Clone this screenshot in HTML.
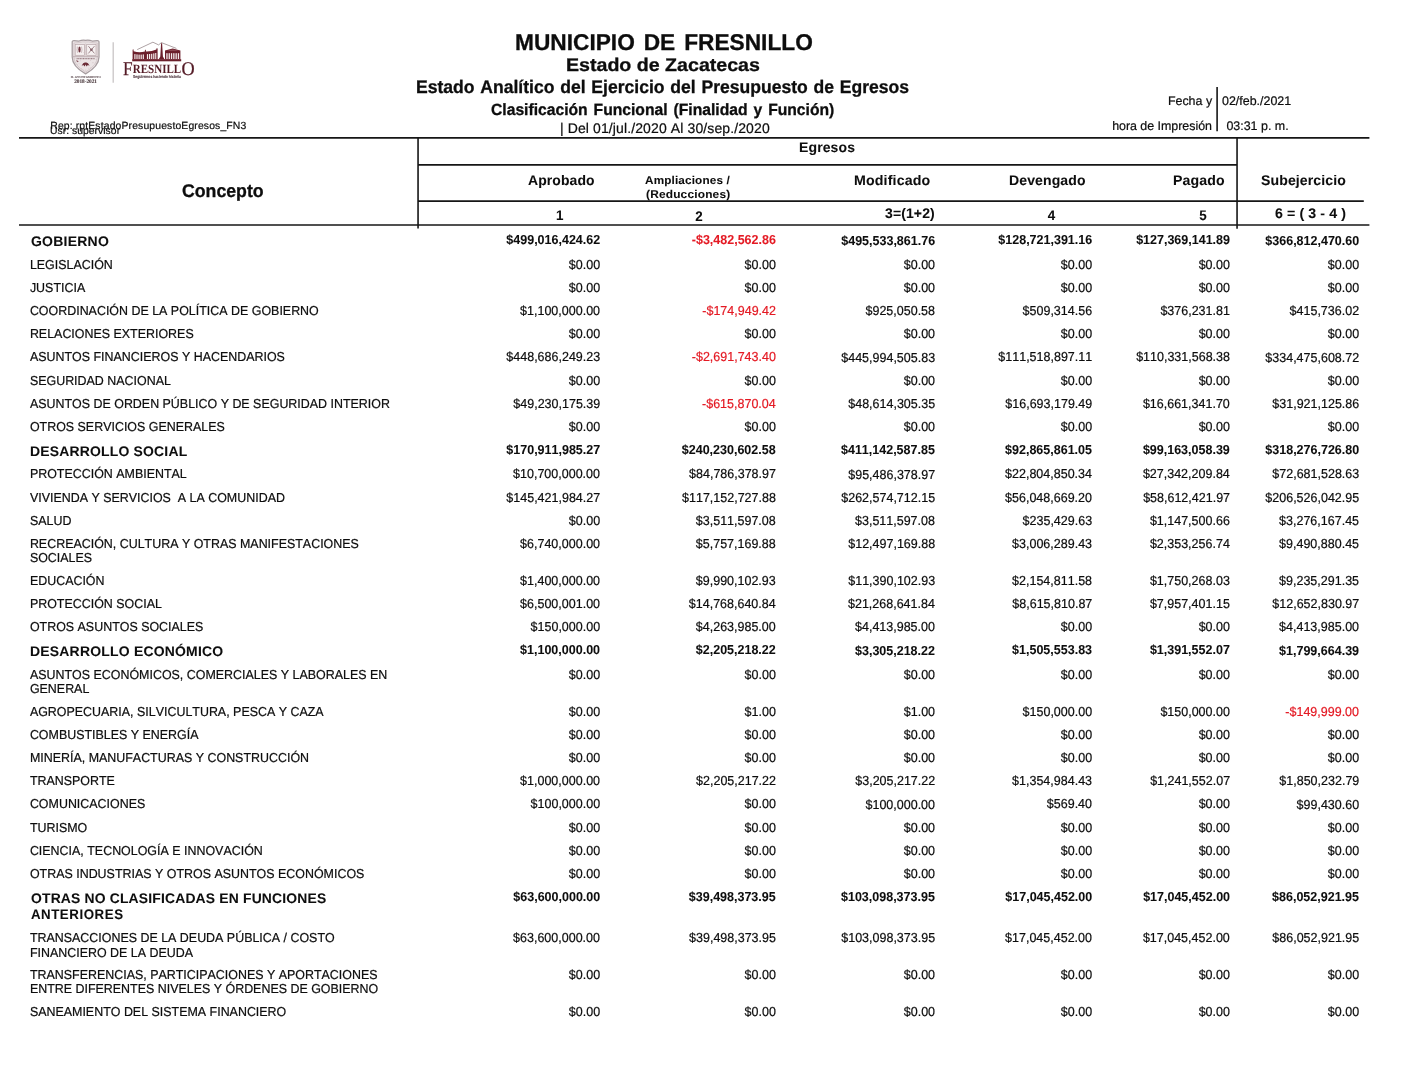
<!DOCTYPE html>
<html lang="es">
<head>
<meta charset="utf-8">
<title>Estado Analítico del Ejercicio del Presupuesto de Egresos</title>
<style>
html,body{margin:0;padding:0;background:#fff;}
body{width:1409px;height:1088px;position:relative;overflow:hidden;font-family:"Liberation Sans",Arial,sans-serif;color:#0d0d0d;font-kerning:none;text-rendering:geometricPrecision;}
.t{position:absolute;line-height:0;white-space:nowrap;-webkit-text-stroke:0.2px currentColor;}
.b{font-weight:bold;-webkit-text-stroke:0.06px currentColor;}
.ln{position:absolute;}
.hv{-webkit-text-stroke:0.3px currentColor;}
.neg{color:#e41a24;}
svg{position:absolute;overflow:visible;}
</style>
</head>
<body>
<svg class="rules" width="1409" height="1088" viewBox="0 0 1409 1088" style="left:0;top:0"><line x1="1217.10" y1="87.10" x2="1217.10" y2="131.20" stroke="#161616" stroke-width="1.60"/><line x1="19.00" y1="137.95" x2="1369.40" y2="137.95" stroke="#161616" stroke-width="1.70"/><line x1="418.00" y1="164.80" x2="1237.00" y2="164.80" stroke="#161616" stroke-width="1.70"/><line x1="418.00" y1="201.05" x2="1363.80" y2="201.05" stroke="#161616" stroke-width="1.70"/><line x1="19.00" y1="225.00" x2="1369.40" y2="225.00" stroke="#161616" stroke-width="1.70"/><line x1="418.05" y1="137.10" x2="418.05" y2="228.60" stroke="#161616" stroke-width="1.60"/><line x1="1237.05" y1="137.10" x2="1237.05" y2="228.70" stroke="#161616" stroke-width="1.60"/></svg>
<header class="report-header">
<svg class="logo" width="150" height="60" viewBox="60 30 150 60" style="left:60px;top:30px" font-family="'Liberation Serif','DejaVu Serif',serif">
<!-- escudo -->
<path d="M72.2,42 Q72.2,40.6 74,40.7 L79,41 Q82.2,39.7 85.6,40.3 Q89,39.7 92.2,41 L97.2,40.7 Q99,40.6 99,42 L99,57 Q99,66.2 85.6,73.9 Q72.2,66.2 72.2,57 Z" fill="#ebe4e5" stroke="#a69c9f" stroke-width="1.25"/>
<path d="M73.9,43 L79.2,42.6 Q82.3,41.5 85.6,42 Q88.9,41.5 92,42.6 L97.3,43 L97.3,57 Q97.3,65 85.6,72 Q73.9,65 73.9,57 Z" fill="none" stroke="#cdbfc2" stroke-width="0.7"/>
<rect x="75.2" y="44.4" width="9.3" height="10.9" fill="#f6f1f1" stroke="#b9a7aa" stroke-width="0.7"/>
<rect x="86.7" y="44.4" width="9.3" height="10.9" fill="#f6f1f1" stroke="#b9a7aa" stroke-width="0.7"/>
<ellipse cx="79.5" cy="49.6" rx="1.15" ry="3" fill="#6f333d"/>
<path d="M77.5,46.6 Q76.5,49.6 77.5,52.8 M81.5,46.6 Q82.5,49.6 81.5,52.8" fill="none" stroke="#b9a3a7" stroke-width="0.7"/>
<path d="M88.4,46.2 L94.4,53.4 M94.4,46.2 L88.4,53.4" stroke="#94797f" stroke-width="0.9" fill="none"/>
<circle cx="91.4" cy="49.8" r="1.3" fill="#84626a"/>
<path d="M73,56.7 H98.2" stroke="#b9a8ab" stroke-width="0.9"/>
<path d="M76.6,58.6 H94.8" stroke="#9c8388" stroke-width="1.1" stroke-dasharray="1.1 0.5"/>
<path d="M76.2,59.8 L78.8,61.6 L77,62.2 Z" fill="#8a5a62"/>
<path d="M81.6,65.8 Q83.4,61.9 85.6,62.6 Q87.8,61.9 89.6,65.8 L87.8,65 L86.6,66.6 L85.6,64.6 L84.6,66.6 L83.4,65 Z" fill="#6c2c37"/>
<path d="M79,63.5 l0.6,0.6 M92,62.4 l0.7,0.5 M90.4,67.6 l0.6,0.5 M81.2,68.4 l0.6,0.4 M85.6,69.6 l0,0.9" stroke="#c9b3b7" stroke-width="0.6"/>
<g fill="#bfaab0" opacity="0.75"><circle cx="75" cy="58.6" r="0.45"/><circle cx="96" cy="59.4" r="0.45"/><circle cx="80.4" cy="60.8" r="0.4"/><circle cx="90.6" cy="60.2" r="0.45"/><circle cx="93.6" cy="62.8" r="0.4"/><circle cx="77.6" cy="64.6" r="0.4"/><circle cx="88.8" cy="68.2" r="0.4"/><circle cx="83" cy="69.2" r="0.4"/><circle cx="86" cy="71" r="0.35"/><circle cx="76.4" cy="47" r="0.35"/><circle cx="83.4" cy="52.6" r="0.35"/><circle cx="88" cy="54" r="0.35"/><circle cx="95" cy="46.2" r="0.35"/><circle cx="85.6" cy="47.6" r="0.4"/><circle cx="85.6" cy="51.8" r="0.4"/></g>
<path d="M85.6,43.4 V56.2" stroke="#d6c9cb" stroke-width="0.8"/>
<text x="85.8" y="77.5" font-size="3.1" text-anchor="middle" fill="#7d6f73" stroke="#7d6f73" stroke-width="0.12" textLength="30.2" lengthAdjust="spacingAndGlyphs" font-weight="bold">H. AYUNTAMIENTO</text>
<text x="85.6" y="82.8" font-size="5.4" text-anchor="middle" fill="#514045" stroke="#514045" stroke-width="0.15" font-weight="bold" textLength="22.8" lengthAdjust="spacingAndGlyphs">2018-2021</text>
<!-- divisor -->
<path d="M113.2,42.2 V82.8" stroke="#c9c5c6" stroke-width="1.3"/>
<!-- monumentos -->
<path d="M137.2,49.6 L152.9,42.2 L158.6,44.9 L161.4,42.6 L176.4,48.4" fill="none" stroke="#6b5558" stroke-width="0.55"/>
<g fill="#6b1f2b">
<rect x="132.2" y="59.2" width="49" height="2.1"/>
<path d="M132.6,59.4 V49.9 L133.1,49 L133.6,49.9 V51.3 Q139.4,53.1 144.9,51.5 V50.2 L145.4,49.4 L145.9,50.2 V51.5 Q151.6,51.7 156.4,49.6 V48.8 L157,47.9 L157.6,48.8 V59.4 Z"/>
<path d="M161.1,43.2 L162.1,43.2 L162.9,56.6 L164.6,59.4 L158.6,59.4 L160.3,56.6 Z"/>
<path d="M165,59.4 V50.6 L172.7,48.4 L180.4,50.6 V59.4 Z"/>
</g>
<g fill="#f4ecec">
<rect x="134.3" y="54.1" width="1.2" height="4.9"/><rect x="136.4" y="54.4" width="1.2" height="4.6"/><rect x="138.5" y="54.6" width="1.2" height="4.4"/><rect x="140.6" y="54.6" width="1.2" height="4.4"/><rect x="142.7" y="54.4" width="1.2" height="4.6"/>
<rect x="146.9" y="54.1" width="1.2" height="4.9"/><rect x="149" y="54" width="1.2" height="5"/><rect x="151.1" y="53.8" width="1.2" height="5.2"/><rect x="153.2" y="53.4" width="1.2" height="5.6"/><rect x="155.2" y="53" width="1.1" height="6"/>
<rect x="166.3" y="53.2" width="1.3" height="5.8"/><rect x="168.6" y="53.2" width="1.3" height="5.8"/><rect x="170.9" y="53.2" width="1.3" height="5.8"/><rect x="173.2" y="53.2" width="1.3" height="5.8"/><rect x="175.5" y="53.2" width="1.3" height="5.8"/><rect x="177.8" y="53.2" width="1.3" height="5.8"/>
<path d="M166.4,51 L172.7,49.3 L179,51 Z" fill="#8a4650"/>
</g>
<!-- rotulo -->
<text fill="#541b26" stroke="#541b26" stroke-width="0.25"><tspan x="122.9" y="74.9" font-size="19.5" textLength="9.6" lengthAdjust="spacingAndGlyphs">F</tspan><tspan x="132.8" y="72.8" font-size="12.6" font-weight="bold" stroke-width="0" textLength="48.4" lengthAdjust="spacingAndGlyphs">RESNILL</tspan><tspan x="181.5" y="75" font-size="19.3" textLength="13.2" lengthAdjust="spacingAndGlyphs">O</tspan></text>
<text x="133.1" y="78" font-size="4.1" fill="#58424a" stroke="#58424a" stroke-width="0.12" font-weight="bold" font-family="'Liberation Sans',sans-serif" textLength="47.8" lengthAdjust="spacingAndGlyphs">Seguiremos haciendo historia</text>
</svg>

<div class="t b hv" style="top:43.20px;font-size:22.40px;word-spacing:2.60px;left:514.78px;transform-origin:0 7.00px;transform:scale(1.0136,1.0200);">MUNICIPIO DE FRESNILLO</div>
<div class="t b hv" style="top:65.00px;font-size:17.60px;left:566.11px;transform-origin:0 6.00px;transform:scale(1.1140,1.0400);">Estado de Zacatecas</div>
<div class="t b hv" style="top:87.10px;font-size:17.55px;word-spacing:0.90px;left:415.65px;transform-origin:0 6.00px;transform:scale(1.0012,1.0400);">Estado Analítico del Ejercicio del Presupuesto de Egresos</div>
<div class="t b hv" style="top:110.90px;font-size:15.60px;word-spacing:1.60px;left:491.05px;transform-origin:0 4.00px;transform:scale(1.0046,1.0400);">Clasificación Funcional (Finalidad y Función)</div>
<div class="t" style="top:128.40px;font-size:14.00px;left:559.95px;letter-spacing:0.114px;">| Del 01/jul./2020 Al 30/sep./2020</div>
<div class="t" style="top:127.30px;font-size:10.40px;left:50.25px;letter-spacing:0.137px;">Rep: rptEstadoPresupuestoEgresos_FN3</div>
<div class="t" style="top:131.70px;font-size:10.40px;left:49.95px;letter-spacing:0.021px;">Usr: supervisor</div>
<div class="t" style="top:101.20px;font-size:12.45px;left:1167.90px;">Fecha y</div>
<div class="t" style="top:101.20px;font-size:12.45px;left:1222.00px;">02/feb./2021</div>
<div class="t" style="top:126.20px;font-size:12.45px;left:1112.15px;letter-spacing:-0.028px;">hora de Impresión</div>
<div class="t" style="top:126.20px;font-size:12.45px;left:1226.40px;">03:31 p. m.</div>
</header>
<section class="report-table">
<div class="thead">
<div class="t b hv" style="top:190.80px;font-size:17.70px;left:181.55px;transform-origin:0 6.00px;transform:scale(1.0012,1.0400);">Concepto</div>
<div class="t b" style="top:148.10px;font-size:13.40px;left:798.95px;letter-spacing:0.102px;transform-origin:0 4.00px;transform:scale(1.0470,1.0400);">Egresos</div>
<div class="t b" style="top:181.10px;font-size:13.40px;left:527.98px;letter-spacing:0.093px;transform-origin:0 4.00px;transform:scale(1.0413,1.0400);">Aprobado</div>
<div class="t b" style="top:181.30px;font-size:10.80px;left:645.13px;letter-spacing:0.132px;transform-origin:0 3.00px;transform:scale(1.0883,1.0400);">Ampliaciones /</div>
<div class="t b" style="top:195.30px;font-size:10.80px;left:646.05px;letter-spacing:0.161px;transform-origin:0 3.00px;transform:scale(1.1027,1.0400);">(Reducciones)</div>
<div class="t b" style="top:181.20px;font-size:13.40px;left:853.54px;letter-spacing:0.121px;transform-origin:0 4.00px;transform:scale(1.0620,1.0400);">Modificado</div>
<div class="t b" style="top:181.20px;font-size:13.40px;left:1008.95px;letter-spacing:0.106px;transform-origin:0 4.00px;transform:scale(1.0475,1.0400);">Devengado</div>
<div class="t b" style="top:181.20px;font-size:13.40px;left:1172.95px;letter-spacing:0.130px;transform-origin:0 4.00px;transform:scale(1.0549,1.0400);">Pagado</div>
<div class="t b" style="top:181.20px;font-size:13.40px;left:1260.87px;letter-spacing:0.093px;transform-origin:0 4.00px;transform:scale(1.0513,1.0400);">Subejercicio</div>
<div class="t b" style="top:216.30px;font-size:13.40px;left:556.12px;transform-origin:0 4.00px;transform:scale(1.0000,1.0400);">1</div>
<div class="t b" style="top:217.40px;font-size:13.40px;left:695.25px;transform-origin:0 4.00px;transform:scale(1.0000,1.0400);">2</div>
<div class="t b" style="top:214.10px;font-size:13.40px;left:885.34px;letter-spacing:0.093px;transform-origin:0 4.00px;transform:scale(1.0481,1.0400);">3=(1+2)</div>
<div class="t b" style="top:216.40px;font-size:13.40px;left:1047.83px;transform-origin:0 4.00px;transform:scale(1.0000,1.0400);">4</div>
<div class="t b" style="top:216.30px;font-size:13.40px;left:1199.35px;transform-origin:0 4.00px;transform:scale(1.0000,1.0400);">5</div>
<div class="t b" style="top:214.00px;font-size:13.40px;left:1275.27px;letter-spacing:0.083px;transform-origin:0 4.00px;transform:scale(1.0602,1.0400);">6 = ( 3 - 4 )</div>
</div>
<div class="row group">
<div class="t b" style="top:241.95px;font-size:13.30px;left:30.87px;letter-spacing:0.229px;transform-origin:0 4.00px;transform:scale(1.0514,1.0400);">GOBIERNO</div>
<div class="t b" style="top:240.25px;font-size:12.50px;left:506.35px;transform-origin:0 4.00px;transform:scale(1.0000,1.0400);">$499,016,424.62</div>
<div class="t b neg" style="top:240.25px;font-size:12.50px;left:691.80px;transform-origin:0 4.00px;transform:scale(1.0000,1.0400);">-$3,482,562.86</div>
<div class="t b" style="top:241.25px;font-size:12.50px;left:841.25px;transform-origin:0 4.00px;transform:scale(1.0000,1.0400);">$495,533,861.76</div>
<div class="t b" style="top:240.25px;font-size:12.50px;left:998.35px;transform-origin:0 4.00px;transform:scale(1.0000,1.0400);">$128,721,391.16</div>
<div class="t b" style="top:240.25px;font-size:12.50px;left:1136.15px;transform-origin:0 4.00px;transform:scale(1.0000,1.0400);">$127,369,141.89</div>
<div class="t b" style="top:241.05px;font-size:12.50px;left:1265.35px;transform-origin:0 4.00px;transform:scale(1.0000,1.0400);">$366,812,470.60</div>
</div>
<div class="row">
<div class="t" style="top:265.25px;font-size:12.45px;left:29.90px;transform-origin:0 4.00px;transform:scale(1.0000,1.0400);">LEGISLACIÓN</div>
<div class="t" style="top:265.25px;font-size:12.50px;left:568.85px;transform-origin:0 4.00px;transform:scale(1.0000,1.0400);">$0.00</div>
<div class="t" style="top:265.25px;font-size:12.50px;left:744.55px;transform-origin:0 4.00px;transform:scale(1.0000,1.0400);">$0.00</div>
<div class="t" style="top:265.25px;font-size:12.50px;left:903.75px;transform-origin:0 4.00px;transform:scale(1.0000,1.0400);">$0.00</div>
<div class="t" style="top:265.25px;font-size:12.50px;left:1060.85px;transform-origin:0 4.00px;transform:scale(1.0000,1.0400);">$0.00</div>
<div class="t" style="top:265.25px;font-size:12.50px;left:1198.65px;transform-origin:0 4.00px;transform:scale(1.0000,1.0400);">$0.00</div>
<div class="t" style="top:265.25px;font-size:12.50px;left:1327.85px;transform-origin:0 4.00px;transform:scale(1.0000,1.0400);">$0.00</div>
</div>
<div class="row">
<div class="t" style="top:288.00px;font-size:12.45px;left:29.90px;transform-origin:0 4.00px;transform:scale(1.0000,1.0400);">JUSTICIA</div>
<div class="t" style="top:288.00px;font-size:12.50px;left:568.85px;transform-origin:0 4.00px;transform:scale(1.0000,1.0400);">$0.00</div>
<div class="t" style="top:288.00px;font-size:12.50px;left:744.55px;transform-origin:0 4.00px;transform:scale(1.0000,1.0400);">$0.00</div>
<div class="t" style="top:288.00px;font-size:12.50px;left:903.75px;transform-origin:0 4.00px;transform:scale(1.0000,1.0400);">$0.00</div>
<div class="t" style="top:288.00px;font-size:12.50px;left:1060.85px;transform-origin:0 4.00px;transform:scale(1.0000,1.0400);">$0.00</div>
<div class="t" style="top:288.00px;font-size:12.50px;left:1198.65px;transform-origin:0 4.00px;transform:scale(1.0000,1.0400);">$0.00</div>
<div class="t" style="top:288.00px;font-size:12.50px;left:1327.85px;transform-origin:0 4.00px;transform:scale(1.0000,1.0400);">$0.00</div>
</div>
<div class="row">
<div class="t" style="top:311.00px;font-size:12.45px;left:29.90px;transform-origin:0 4.00px;transform:scale(1.0000,1.0400);">COORDINACIÓN DE LA POLÍTICA DE GOBIERNO</div>
<div class="t" style="top:311.00px;font-size:12.50px;left:520.10px;transform-origin:0 4.00px;transform:scale(1.0000,1.0400);">$1,100,000.00</div>
<div class="t neg" style="top:311.00px;font-size:12.50px;left:702.30px;transform-origin:0 4.00px;transform:scale(1.0000,1.0400);">-$174,949.42</div>
<div class="t" style="top:311.00px;font-size:12.50px;left:865.50px;transform-origin:0 4.00px;transform:scale(1.0000,1.0400);">$925,050.58</div>
<div class="t" style="top:311.00px;font-size:12.50px;left:1022.60px;transform-origin:0 4.00px;transform:scale(1.0000,1.0400);">$509,314.56</div>
<div class="t" style="top:311.00px;font-size:12.50px;left:1160.40px;transform-origin:0 4.00px;transform:scale(1.0000,1.0400);">$376,231.81</div>
<div class="t" style="top:311.00px;font-size:12.50px;left:1289.60px;transform-origin:0 4.00px;transform:scale(1.0000,1.0400);">$415,736.02</div>
</div>
<div class="row">
<div class="t" style="top:334.00px;font-size:12.45px;left:29.90px;transform-origin:0 4.00px;transform:scale(1.0000,1.0400);">RELACIONES EXTERIORES</div>
<div class="t" style="top:334.00px;font-size:12.50px;left:568.85px;transform-origin:0 4.00px;transform:scale(1.0000,1.0400);">$0.00</div>
<div class="t" style="top:334.00px;font-size:12.50px;left:744.55px;transform-origin:0 4.00px;transform:scale(1.0000,1.0400);">$0.00</div>
<div class="t" style="top:334.00px;font-size:12.50px;left:903.75px;transform-origin:0 4.00px;transform:scale(1.0000,1.0400);">$0.00</div>
<div class="t" style="top:334.00px;font-size:12.50px;left:1060.85px;transform-origin:0 4.00px;transform:scale(1.0000,1.0400);">$0.00</div>
<div class="t" style="top:334.00px;font-size:12.50px;left:1198.65px;transform-origin:0 4.00px;transform:scale(1.0000,1.0400);">$0.00</div>
<div class="t" style="top:334.00px;font-size:12.50px;left:1327.85px;transform-origin:0 4.00px;transform:scale(1.0000,1.0400);">$0.00</div>
</div>
<div class="row">
<div class="t" style="top:356.60px;font-size:12.45px;left:29.90px;transform-origin:0 4.00px;transform:scale(1.0000,1.0400);">ASUNTOS FINANCIEROS Y HACENDARIOS</div>
<div class="t" style="top:356.60px;font-size:12.50px;left:506.35px;transform-origin:0 4.00px;transform:scale(1.0000,1.0400);">$448,686,249.23</div>
<div class="t neg" style="top:356.60px;font-size:12.50px;left:691.80px;transform-origin:0 4.00px;transform:scale(1.0000,1.0400);">-$2,691,743.40</div>
<div class="t" style="top:357.60px;font-size:12.50px;left:841.25px;transform-origin:0 4.00px;transform:scale(1.0000,1.0400);">$445,994,505.83</div>
<div class="t" style="top:356.60px;font-size:12.50px;left:998.35px;transform-origin:0 4.00px;transform:scale(1.0000,1.0400);">$111,518,897.11</div>
<div class="t" style="top:356.60px;font-size:12.50px;left:1136.15px;transform-origin:0 4.00px;transform:scale(1.0000,1.0400);">$110,331,568.38</div>
<div class="t" style="top:357.60px;font-size:12.50px;left:1265.35px;transform-origin:0 4.00px;transform:scale(1.0000,1.0400);">$334,475,608.72</div>
</div>
<div class="row">
<div class="t" style="top:380.50px;font-size:12.45px;left:29.90px;transform-origin:0 4.00px;transform:scale(1.0000,1.0400);">SEGURIDAD NACIONAL</div>
<div class="t" style="top:380.50px;font-size:12.50px;left:568.85px;transform-origin:0 4.00px;transform:scale(1.0000,1.0400);">$0.00</div>
<div class="t" style="top:380.50px;font-size:12.50px;left:744.55px;transform-origin:0 4.00px;transform:scale(1.0000,1.0400);">$0.00</div>
<div class="t" style="top:380.50px;font-size:12.50px;left:903.75px;transform-origin:0 4.00px;transform:scale(1.0000,1.0400);">$0.00</div>
<div class="t" style="top:380.50px;font-size:12.50px;left:1060.85px;transform-origin:0 4.00px;transform:scale(1.0000,1.0400);">$0.00</div>
<div class="t" style="top:380.50px;font-size:12.50px;left:1198.65px;transform-origin:0 4.00px;transform:scale(1.0000,1.0400);">$0.00</div>
<div class="t" style="top:380.50px;font-size:12.50px;left:1327.85px;transform-origin:0 4.00px;transform:scale(1.0000,1.0400);">$0.00</div>
</div>
<div class="row">
<div class="t" style="top:403.90px;font-size:12.45px;left:29.90px;transform-origin:0 4.00px;transform:scale(1.0000,1.0400);">ASUNTOS DE ORDEN PÚBLICO Y DE SEGURIDAD INTERIOR</div>
<div class="t" style="top:403.90px;font-size:12.50px;left:513.35px;transform-origin:0 4.00px;transform:scale(1.0000,1.0400);">$49,230,175.39</div>
<div class="t neg" style="top:403.90px;font-size:12.50px;left:702.05px;transform-origin:0 4.00px;transform:scale(1.0000,1.0400);">-$615,870.04</div>
<div class="t" style="top:403.90px;font-size:12.50px;left:848.25px;transform-origin:0 4.00px;transform:scale(1.0000,1.0400);">$48,614,305.35</div>
<div class="t" style="top:403.90px;font-size:12.50px;left:1005.35px;transform-origin:0 4.00px;transform:scale(1.0000,1.0400);">$16,693,179.49</div>
<div class="t" style="top:403.90px;font-size:12.50px;left:1142.90px;transform-origin:0 4.00px;transform:scale(1.0000,1.0400);">$16,661,341.70</div>
<div class="t" style="top:403.90px;font-size:12.50px;left:1272.35px;transform-origin:0 4.00px;transform:scale(1.0000,1.0400);">$31,921,125.86</div>
</div>
<div class="row">
<div class="t" style="top:426.60px;font-size:12.45px;left:29.90px;transform-origin:0 4.00px;transform:scale(1.0000,1.0400);">OTROS SERVICIOS GENERALES</div>
<div class="t" style="top:426.60px;font-size:12.50px;left:568.85px;transform-origin:0 4.00px;transform:scale(1.0000,1.0400);">$0.00</div>
<div class="t" style="top:426.60px;font-size:12.50px;left:744.55px;transform-origin:0 4.00px;transform:scale(1.0000,1.0400);">$0.00</div>
<div class="t" style="top:426.60px;font-size:12.50px;left:903.75px;transform-origin:0 4.00px;transform:scale(1.0000,1.0400);">$0.00</div>
<div class="t" style="top:426.60px;font-size:12.50px;left:1060.85px;transform-origin:0 4.00px;transform:scale(1.0000,1.0400);">$0.00</div>
<div class="t" style="top:426.60px;font-size:12.50px;left:1198.65px;transform-origin:0 4.00px;transform:scale(1.0000,1.0400);">$0.00</div>
<div class="t" style="top:426.60px;font-size:12.50px;left:1327.85px;transform-origin:0 4.00px;transform:scale(1.0000,1.0400);">$0.00</div>
</div>
<div class="row group">
<div class="t b" style="top:451.95px;font-size:13.30px;left:30.35px;letter-spacing:0.189px;transform-origin:0 4.00px;transform:scale(1.0476,1.0400);">DESARROLLO SOCIAL</div>
<div class="t b" style="top:450.25px;font-size:12.50px;left:506.35px;transform-origin:0 4.00px;transform:scale(1.0000,1.0400);">$170,911,985.27</div>
<div class="t b" style="top:450.25px;font-size:12.50px;left:681.80px;transform-origin:0 4.00px;transform:scale(1.0000,1.0400);">$240,230,602.58</div>
<div class="t b" style="top:450.25px;font-size:12.50px;left:841.00px;transform-origin:0 4.00px;transform:scale(1.0000,1.0400);">$411,142,587.85</div>
<div class="t b" style="top:450.25px;font-size:12.50px;left:1005.10px;transform-origin:0 4.00px;transform:scale(1.0000,1.0400);">$92,865,861.05</div>
<div class="t b" style="top:450.25px;font-size:12.50px;left:1142.90px;transform-origin:0 4.00px;transform:scale(1.0000,1.0400);">$99,163,058.39</div>
<div class="t b" style="top:450.25px;font-size:12.50px;left:1265.35px;transform-origin:0 4.00px;transform:scale(1.0000,1.0400);">$318,276,726.80</div>
</div>
<div class="row">
<div class="t" style="top:474.00px;font-size:12.45px;left:29.90px;transform-origin:0 4.00px;transform:scale(1.0000,1.0400);">PROTECCIÓN AMBIENTAL</div>
<div class="t" style="top:474.00px;font-size:12.50px;left:513.10px;transform-origin:0 4.00px;transform:scale(1.0000,1.0400);">$10,700,000.00</div>
<div class="t" style="top:474.00px;font-size:12.50px;left:689.05px;transform-origin:0 4.00px;transform:scale(1.0000,1.0400);">$84,786,378.97</div>
<div class="t" style="top:475.00px;font-size:12.50px;left:848.25px;transform-origin:0 4.00px;transform:scale(1.0000,1.0400);">$95,486,378.97</div>
<div class="t" style="top:474.00px;font-size:12.50px;left:1005.10px;transform-origin:0 4.00px;transform:scale(1.0000,1.0400);">$22,804,850.34</div>
<div class="t" style="top:474.00px;font-size:12.50px;left:1142.90px;transform-origin:0 4.00px;transform:scale(1.0000,1.0400);">$27,342,209.84</div>
<div class="t" style="top:474.00px;font-size:12.50px;left:1272.35px;transform-origin:0 4.00px;transform:scale(1.0000,1.0400);">$72,681,528.63</div>
</div>
<div class="row">
<div class="t" style="top:497.60px;font-size:12.45px;left:29.90px;transform-origin:0 4.00px;transform:scale(1.0000,1.0400);">VIVIENDA Y SERVICIOS&nbsp; A LA COMUNIDAD</div>
<div class="t" style="top:497.60px;font-size:12.50px;left:506.35px;transform-origin:0 4.00px;transform:scale(1.0000,1.0400);">$145,421,984.27</div>
<div class="t" style="top:497.60px;font-size:12.50px;left:682.05px;transform-origin:0 4.00px;transform:scale(1.0000,1.0400);">$117,152,727.88</div>
<div class="t" style="top:497.60px;font-size:12.50px;left:841.25px;transform-origin:0 4.00px;transform:scale(1.0000,1.0400);">$262,574,712.15</div>
<div class="t" style="top:497.60px;font-size:12.50px;left:1005.10px;transform-origin:0 4.00px;transform:scale(1.0000,1.0400);">$56,048,669.20</div>
<div class="t" style="top:497.60px;font-size:12.50px;left:1143.15px;transform-origin:0 4.00px;transform:scale(1.0000,1.0400);">$58,612,421.97</div>
<div class="t" style="top:497.60px;font-size:12.50px;left:1265.35px;transform-origin:0 4.00px;transform:scale(1.0000,1.0400);">$206,526,042.95</div>
</div>
<div class="row">
<div class="t" style="top:521.00px;font-size:12.45px;left:29.90px;transform-origin:0 4.00px;transform:scale(1.0000,1.0400);">SALUD</div>
<div class="t" style="top:521.00px;font-size:12.50px;left:568.85px;transform-origin:0 4.00px;transform:scale(1.0000,1.0400);">$0.00</div>
<div class="t" style="top:521.00px;font-size:12.50px;left:695.80px;transform-origin:0 4.00px;transform:scale(1.0000,1.0400);">$3,511,597.08</div>
<div class="t" style="top:521.00px;font-size:12.50px;left:855.00px;transform-origin:0 4.00px;transform:scale(1.0000,1.0400);">$3,511,597.08</div>
<div class="t" style="top:521.00px;font-size:12.50px;left:1022.60px;transform-origin:0 4.00px;transform:scale(1.0000,1.0400);">$235,429.63</div>
<div class="t" style="top:521.00px;font-size:12.50px;left:1149.90px;transform-origin:0 4.00px;transform:scale(1.0000,1.0400);">$1,147,500.66</div>
<div class="t" style="top:521.00px;font-size:12.50px;left:1279.10px;transform-origin:0 4.00px;transform:scale(1.0000,1.0400);">$3,276,167.45</div>
</div>
<div class="row">
<div class="t" style="top:543.60px;font-size:12.45px;left:29.90px;transform-origin:0 4.00px;transform:scale(1.0000,1.0400);">RECREACIÓN, CULTURA Y OTRAS MANIFESTACIONES</div>
<div class="t" style="top:557.80px;font-size:12.45px;left:29.90px;transform-origin:0 4.00px;transform:scale(1.0000,1.0400);">SOCIALES</div>
<div class="t" style="top:543.60px;font-size:12.50px;left:520.10px;transform-origin:0 4.00px;transform:scale(1.0000,1.0400);">$6,740,000.00</div>
<div class="t" style="top:543.60px;font-size:12.50px;left:695.80px;transform-origin:0 4.00px;transform:scale(1.0000,1.0400);">$5,757,169.88</div>
<div class="t" style="top:543.60px;font-size:12.50px;left:848.25px;transform-origin:0 4.00px;transform:scale(1.0000,1.0400);">$12,497,169.88</div>
<div class="t" style="top:543.60px;font-size:12.50px;left:1012.10px;transform-origin:0 4.00px;transform:scale(1.0000,1.0400);">$3,006,289.43</div>
<div class="t" style="top:543.60px;font-size:12.50px;left:1149.90px;transform-origin:0 4.00px;transform:scale(1.0000,1.0400);">$2,353,256.74</div>
<div class="t" style="top:543.60px;font-size:12.50px;left:1279.10px;transform-origin:0 4.00px;transform:scale(1.0000,1.0400);">$9,490,880.45</div>
</div>
<div class="row">
<div class="t" style="top:580.50px;font-size:12.45px;left:29.90px;transform-origin:0 4.00px;transform:scale(1.0000,1.0400);">EDUCACIÓN</div>
<div class="t" style="top:580.50px;font-size:12.50px;left:520.10px;transform-origin:0 4.00px;transform:scale(1.0000,1.0400);">$1,400,000.00</div>
<div class="t" style="top:580.50px;font-size:12.50px;left:695.80px;transform-origin:0 4.00px;transform:scale(1.0000,1.0400);">$9,990,102.93</div>
<div class="t" style="top:580.50px;font-size:12.50px;left:848.25px;transform-origin:0 4.00px;transform:scale(1.0000,1.0400);">$11,390,102.93</div>
<div class="t" style="top:580.50px;font-size:12.50px;left:1012.10px;transform-origin:0 4.00px;transform:scale(1.0000,1.0400);">$2,154,811.58</div>
<div class="t" style="top:580.50px;font-size:12.50px;left:1149.90px;transform-origin:0 4.00px;transform:scale(1.0000,1.0400);">$1,750,268.03</div>
<div class="t" style="top:580.50px;font-size:12.50px;left:1279.10px;transform-origin:0 4.00px;transform:scale(1.0000,1.0400);">$9,235,291.35</div>
</div>
<div class="row">
<div class="t" style="top:603.60px;font-size:12.45px;left:29.90px;transform-origin:0 4.00px;transform:scale(1.0000,1.0400);">PROTECCIÓN SOCIAL</div>
<div class="t" style="top:603.60px;font-size:12.50px;left:520.10px;transform-origin:0 4.00px;transform:scale(1.0000,1.0400);">$6,500,001.00</div>
<div class="t" style="top:603.60px;font-size:12.50px;left:688.80px;transform-origin:0 4.00px;transform:scale(1.0000,1.0400);">$14,768,640.84</div>
<div class="t" style="top:603.60px;font-size:12.50px;left:848.00px;transform-origin:0 4.00px;transform:scale(1.0000,1.0400);">$21,268,641.84</div>
<div class="t" style="top:603.60px;font-size:12.50px;left:1012.35px;transform-origin:0 4.00px;transform:scale(1.0000,1.0400);">$8,615,810.87</div>
<div class="t" style="top:603.60px;font-size:12.50px;left:1149.90px;transform-origin:0 4.00px;transform:scale(1.0000,1.0400);">$7,957,401.15</div>
<div class="t" style="top:603.60px;font-size:12.50px;left:1272.35px;transform-origin:0 4.00px;transform:scale(1.0000,1.0400);">$12,652,830.97</div>
</div>
<div class="row">
<div class="t" style="top:626.80px;font-size:12.45px;left:29.90px;transform-origin:0 4.00px;transform:scale(1.0000,1.0400);">OTROS ASUNTOS SOCIALES</div>
<div class="t" style="top:626.80px;font-size:12.50px;left:530.60px;transform-origin:0 4.00px;transform:scale(1.0000,1.0400);">$150,000.00</div>
<div class="t" style="top:626.80px;font-size:12.50px;left:695.80px;transform-origin:0 4.00px;transform:scale(1.0000,1.0400);">$4,263,985.00</div>
<div class="t" style="top:626.80px;font-size:12.50px;left:855.00px;transform-origin:0 4.00px;transform:scale(1.0000,1.0400);">$4,413,985.00</div>
<div class="t" style="top:626.80px;font-size:12.50px;left:1060.85px;transform-origin:0 4.00px;transform:scale(1.0000,1.0400);">$0.00</div>
<div class="t" style="top:626.80px;font-size:12.50px;left:1198.65px;transform-origin:0 4.00px;transform:scale(1.0000,1.0400);">$0.00</div>
<div class="t" style="top:626.80px;font-size:12.50px;left:1279.10px;transform-origin:0 4.00px;transform:scale(1.0000,1.0400);">$4,413,985.00</div>
</div>
<div class="row group">
<div class="t b" style="top:651.95px;font-size:13.30px;left:30.35px;letter-spacing:0.203px;transform-origin:0 4.00px;transform:scale(1.0493,1.0400);">DESARROLLO ECONÓMICO</div>
<div class="t b" style="top:650.25px;font-size:12.50px;left:520.10px;transform-origin:0 4.00px;transform:scale(1.0000,1.0400);">$1,100,000.00</div>
<div class="t b" style="top:650.25px;font-size:12.50px;left:695.80px;transform-origin:0 4.00px;transform:scale(1.0000,1.0400);">$2,205,218.22</div>
<div class="t b" style="top:651.25px;font-size:12.50px;left:855.00px;transform-origin:0 4.00px;transform:scale(1.0000,1.0400);">$3,305,218.22</div>
<div class="t b" style="top:650.25px;font-size:12.50px;left:1012.10px;transform-origin:0 4.00px;transform:scale(1.0000,1.0400);">$1,505,553.83</div>
<div class="t b" style="top:650.25px;font-size:12.50px;left:1149.90px;transform-origin:0 4.00px;transform:scale(1.0000,1.0400);">$1,391,552.07</div>
<div class="t b" style="top:651.25px;font-size:12.50px;left:1279.10px;transform-origin:0 4.00px;transform:scale(1.0000,1.0400);">$1,799,664.39</div>
</div>
<div class="row">
<div class="t" style="top:674.80px;font-size:12.45px;left:29.90px;transform-origin:0 4.00px;transform:scale(1.0000,1.0400);">ASUNTOS ECONÓMICOS, COMERCIALES Y LABORALES EN</div>
<div class="t" style="top:689.00px;font-size:12.45px;left:29.90px;transform-origin:0 4.00px;transform:scale(1.0000,1.0400);">GENERAL</div>
<div class="t" style="top:674.80px;font-size:12.50px;left:568.85px;transform-origin:0 4.00px;transform:scale(1.0000,1.0400);">$0.00</div>
<div class="t" style="top:674.80px;font-size:12.50px;left:744.55px;transform-origin:0 4.00px;transform:scale(1.0000,1.0400);">$0.00</div>
<div class="t" style="top:674.80px;font-size:12.50px;left:903.75px;transform-origin:0 4.00px;transform:scale(1.0000,1.0400);">$0.00</div>
<div class="t" style="top:674.80px;font-size:12.50px;left:1060.85px;transform-origin:0 4.00px;transform:scale(1.0000,1.0400);">$0.00</div>
<div class="t" style="top:674.80px;font-size:12.50px;left:1198.65px;transform-origin:0 4.00px;transform:scale(1.0000,1.0400);">$0.00</div>
<div class="t" style="top:674.80px;font-size:12.50px;left:1327.85px;transform-origin:0 4.00px;transform:scale(1.0000,1.0400);">$0.00</div>
</div>
<div class="row">
<div class="t" style="top:711.75px;font-size:12.45px;left:29.90px;transform-origin:0 4.00px;transform:scale(1.0000,1.0400);">AGROPECUARIA, SILVICULTURA, PESCA Y CAZA</div>
<div class="t" style="top:711.75px;font-size:12.50px;left:568.85px;transform-origin:0 4.00px;transform:scale(1.0000,1.0400);">$0.00</div>
<div class="t" style="top:711.75px;font-size:12.50px;left:744.55px;transform-origin:0 4.00px;transform:scale(1.0000,1.0400);">$1.00</div>
<div class="t" style="top:711.75px;font-size:12.50px;left:903.75px;transform-origin:0 4.00px;transform:scale(1.0000,1.0400);">$1.00</div>
<div class="t" style="top:711.75px;font-size:12.50px;left:1022.60px;transform-origin:0 4.00px;transform:scale(1.0000,1.0400);">$150,000.00</div>
<div class="t" style="top:711.75px;font-size:12.50px;left:1160.40px;transform-origin:0 4.00px;transform:scale(1.0000,1.0400);">$150,000.00</div>
<div class="t neg" style="top:711.75px;font-size:12.50px;left:1285.35px;transform-origin:0 4.00px;transform:scale(1.0000,1.0400);">-$149,999.00</div>
</div>
<div class="row">
<div class="t" style="top:734.75px;font-size:12.45px;left:29.90px;transform-origin:0 4.00px;transform:scale(1.0000,1.0400);">COMBUSTIBLES Y ENERGÍA</div>
<div class="t" style="top:734.75px;font-size:12.50px;left:568.85px;transform-origin:0 4.00px;transform:scale(1.0000,1.0400);">$0.00</div>
<div class="t" style="top:734.75px;font-size:12.50px;left:744.55px;transform-origin:0 4.00px;transform:scale(1.0000,1.0400);">$0.00</div>
<div class="t" style="top:734.75px;font-size:12.50px;left:903.75px;transform-origin:0 4.00px;transform:scale(1.0000,1.0400);">$0.00</div>
<div class="t" style="top:734.75px;font-size:12.50px;left:1060.85px;transform-origin:0 4.00px;transform:scale(1.0000,1.0400);">$0.00</div>
<div class="t" style="top:734.75px;font-size:12.50px;left:1198.65px;transform-origin:0 4.00px;transform:scale(1.0000,1.0400);">$0.00</div>
<div class="t" style="top:734.75px;font-size:12.50px;left:1327.85px;transform-origin:0 4.00px;transform:scale(1.0000,1.0400);">$0.00</div>
</div>
<div class="row">
<div class="t" style="top:757.75px;font-size:12.45px;left:29.90px;transform-origin:0 4.00px;transform:scale(1.0000,1.0400);">MINERÍA, MANUFACTURAS Y CONSTRUCCIÓN</div>
<div class="t" style="top:757.75px;font-size:12.50px;left:568.85px;transform-origin:0 4.00px;transform:scale(1.0000,1.0400);">$0.00</div>
<div class="t" style="top:757.75px;font-size:12.50px;left:744.55px;transform-origin:0 4.00px;transform:scale(1.0000,1.0400);">$0.00</div>
<div class="t" style="top:757.75px;font-size:12.50px;left:903.75px;transform-origin:0 4.00px;transform:scale(1.0000,1.0400);">$0.00</div>
<div class="t" style="top:757.75px;font-size:12.50px;left:1060.85px;transform-origin:0 4.00px;transform:scale(1.0000,1.0400);">$0.00</div>
<div class="t" style="top:757.75px;font-size:12.50px;left:1198.65px;transform-origin:0 4.00px;transform:scale(1.0000,1.0400);">$0.00</div>
<div class="t" style="top:757.75px;font-size:12.50px;left:1327.85px;transform-origin:0 4.00px;transform:scale(1.0000,1.0400);">$0.00</div>
</div>
<div class="row">
<div class="t" style="top:780.60px;font-size:12.45px;left:29.90px;transform-origin:0 4.00px;transform:scale(1.0000,1.0400);">TRANSPORTE</div>
<div class="t" style="top:780.60px;font-size:12.50px;left:520.10px;transform-origin:0 4.00px;transform:scale(1.0000,1.0400);">$1,000,000.00</div>
<div class="t" style="top:780.60px;font-size:12.50px;left:696.05px;transform-origin:0 4.00px;transform:scale(1.0000,1.0400);">$2,205,217.22</div>
<div class="t" style="top:780.60px;font-size:12.50px;left:855.25px;transform-origin:0 4.00px;transform:scale(1.0000,1.0400);">$3,205,217.22</div>
<div class="t" style="top:780.60px;font-size:12.50px;left:1012.10px;transform-origin:0 4.00px;transform:scale(1.0000,1.0400);">$1,354,984.43</div>
<div class="t" style="top:780.60px;font-size:12.50px;left:1150.15px;transform-origin:0 4.00px;transform:scale(1.0000,1.0400);">$1,241,552.07</div>
<div class="t" style="top:780.60px;font-size:12.50px;left:1279.35px;transform-origin:0 4.00px;transform:scale(1.0000,1.0400);">$1,850,232.79</div>
</div>
<div class="row">
<div class="t" style="top:803.60px;font-size:12.45px;left:29.90px;transform-origin:0 4.00px;transform:scale(1.0000,1.0400);">COMUNICACIONES</div>
<div class="t" style="top:803.60px;font-size:12.50px;left:530.60px;transform-origin:0 4.00px;transform:scale(1.0000,1.0400);">$100,000.00</div>
<div class="t" style="top:803.60px;font-size:12.50px;left:744.55px;transform-origin:0 4.00px;transform:scale(1.0000,1.0400);">$0.00</div>
<div class="t" style="top:804.60px;font-size:12.50px;left:865.50px;transform-origin:0 4.00px;transform:scale(1.0000,1.0400);">$100,000.00</div>
<div class="t" style="top:803.60px;font-size:12.50px;left:1046.85px;transform-origin:0 4.00px;transform:scale(1.0000,1.0400);">$569.40</div>
<div class="t" style="top:803.60px;font-size:12.50px;left:1198.65px;transform-origin:0 4.00px;transform:scale(1.0000,1.0400);">$0.00</div>
<div class="t" style="top:804.60px;font-size:12.50px;left:1296.60px;transform-origin:0 4.00px;transform:scale(1.0000,1.0400);">$99,430.60</div>
</div>
<div class="row">
<div class="t" style="top:827.75px;font-size:12.45px;left:29.90px;transform-origin:0 4.00px;transform:scale(1.0000,1.0400);">TURISMO</div>
<div class="t" style="top:827.75px;font-size:12.50px;left:568.85px;transform-origin:0 4.00px;transform:scale(1.0000,1.0400);">$0.00</div>
<div class="t" style="top:827.75px;font-size:12.50px;left:744.55px;transform-origin:0 4.00px;transform:scale(1.0000,1.0400);">$0.00</div>
<div class="t" style="top:827.75px;font-size:12.50px;left:903.75px;transform-origin:0 4.00px;transform:scale(1.0000,1.0400);">$0.00</div>
<div class="t" style="top:827.75px;font-size:12.50px;left:1060.85px;transform-origin:0 4.00px;transform:scale(1.0000,1.0400);">$0.00</div>
<div class="t" style="top:827.75px;font-size:12.50px;left:1198.65px;transform-origin:0 4.00px;transform:scale(1.0000,1.0400);">$0.00</div>
<div class="t" style="top:827.75px;font-size:12.50px;left:1327.85px;transform-origin:0 4.00px;transform:scale(1.0000,1.0400);">$0.00</div>
</div>
<div class="row">
<div class="t" style="top:850.60px;font-size:12.45px;left:29.90px;transform-origin:0 4.00px;transform:scale(1.0000,1.0400);">CIENCIA, TECNOLOGÍA E INNOVACIÓN</div>
<div class="t" style="top:850.60px;font-size:12.50px;left:568.85px;transform-origin:0 4.00px;transform:scale(1.0000,1.0400);">$0.00</div>
<div class="t" style="top:850.60px;font-size:12.50px;left:744.55px;transform-origin:0 4.00px;transform:scale(1.0000,1.0400);">$0.00</div>
<div class="t" style="top:850.60px;font-size:12.50px;left:903.75px;transform-origin:0 4.00px;transform:scale(1.0000,1.0400);">$0.00</div>
<div class="t" style="top:850.60px;font-size:12.50px;left:1060.85px;transform-origin:0 4.00px;transform:scale(1.0000,1.0400);">$0.00</div>
<div class="t" style="top:850.60px;font-size:12.50px;left:1198.65px;transform-origin:0 4.00px;transform:scale(1.0000,1.0400);">$0.00</div>
<div class="t" style="top:850.60px;font-size:12.50px;left:1327.85px;transform-origin:0 4.00px;transform:scale(1.0000,1.0400);">$0.00</div>
</div>
<div class="row">
<div class="t" style="top:873.60px;font-size:12.45px;left:29.90px;transform-origin:0 4.00px;transform:scale(1.0000,1.0400);">OTRAS INDUSTRIAS Y OTROS ASUNTOS ECONÓMICOS</div>
<div class="t" style="top:873.60px;font-size:12.50px;left:568.85px;transform-origin:0 4.00px;transform:scale(1.0000,1.0400);">$0.00</div>
<div class="t" style="top:873.60px;font-size:12.50px;left:744.55px;transform-origin:0 4.00px;transform:scale(1.0000,1.0400);">$0.00</div>
<div class="t" style="top:873.60px;font-size:12.50px;left:903.75px;transform-origin:0 4.00px;transform:scale(1.0000,1.0400);">$0.00</div>
<div class="t" style="top:873.60px;font-size:12.50px;left:1060.85px;transform-origin:0 4.00px;transform:scale(1.0000,1.0400);">$0.00</div>
<div class="t" style="top:873.60px;font-size:12.50px;left:1198.65px;transform-origin:0 4.00px;transform:scale(1.0000,1.0400);">$0.00</div>
<div class="t" style="top:873.60px;font-size:12.50px;left:1327.85px;transform-origin:0 4.00px;transform:scale(1.0000,1.0400);">$0.00</div>
</div>
<div class="row group">
<div class="t b" style="top:898.70px;font-size:13.30px;left:30.88px;letter-spacing:0.165px;transform-origin:0 4.00px;transform:scale(1.0450,1.0400);">OTRAS NO CLASIFICADAS EN FUNCIONES</div>
<div class="t b" style="top:914.50px;font-size:13.30px;letter-spacing:0.550px;left:30.90px;transform-origin:0 4.00px;transform:scale(1.0000,1.0400);">ANTERIORES</div>
<div class="t b" style="top:897.00px;font-size:12.50px;left:513.35px;transform-origin:0 4.00px;transform:scale(1.0000,1.0400);">$63,600,000.00</div>
<div class="t b" style="top:897.00px;font-size:12.50px;left:688.80px;transform-origin:0 4.00px;transform:scale(1.0000,1.0400);">$39,498,373.95</div>
<div class="t b" style="top:897.00px;font-size:12.50px;left:841.00px;transform-origin:0 4.00px;transform:scale(1.0000,1.0400);">$103,098,373.95</div>
<div class="t b" style="top:897.00px;font-size:12.50px;left:1005.35px;transform-origin:0 4.00px;transform:scale(1.0000,1.0400);">$17,045,452.00</div>
<div class="t b" style="top:897.00px;font-size:12.50px;left:1143.15px;transform-origin:0 4.00px;transform:scale(1.0000,1.0400);">$17,045,452.00</div>
<div class="t b" style="top:897.00px;font-size:12.50px;left:1272.10px;transform-origin:0 4.00px;transform:scale(1.0000,1.0400);">$86,052,921.95</div>
</div>
<div class="row">
<div class="t" style="top:937.75px;font-size:12.45px;left:29.90px;transform-origin:0 4.00px;transform:scale(1.0000,1.0400);">TRANSACCIONES DE LA DEUDA PÚBLICA / COSTO</div>
<div class="t" style="top:952.60px;font-size:12.45px;left:29.90px;transform-origin:0 4.00px;transform:scale(1.0000,1.0400);">FINANCIERO DE LA DEUDA</div>
<div class="t" style="top:937.75px;font-size:12.50px;left:513.10px;transform-origin:0 4.00px;transform:scale(1.0000,1.0400);">$63,600,000.00</div>
<div class="t" style="top:937.75px;font-size:12.50px;left:689.05px;transform-origin:0 4.00px;transform:scale(1.0000,1.0400);">$39,498,373.95</div>
<div class="t" style="top:937.75px;font-size:12.50px;left:841.25px;transform-origin:0 4.00px;transform:scale(1.0000,1.0400);">$103,098,373.95</div>
<div class="t" style="top:937.75px;font-size:12.50px;left:1005.10px;transform-origin:0 4.00px;transform:scale(1.0000,1.0400);">$17,045,452.00</div>
<div class="t" style="top:937.75px;font-size:12.50px;left:1142.90px;transform-origin:0 4.00px;transform:scale(1.0000,1.0400);">$17,045,452.00</div>
<div class="t" style="top:937.75px;font-size:12.50px;left:1272.35px;transform-origin:0 4.00px;transform:scale(1.0000,1.0400);">$86,052,921.95</div>
</div>
<div class="row">
<div class="t" style="top:974.75px;font-size:12.45px;left:29.90px;transform-origin:0 4.00px;transform:scale(1.0000,1.0400);">TRANSFERENCIAS, PARTICIPACIONES Y APORTACIONES</div>
<div class="t" style="top:988.60px;font-size:12.45px;left:29.90px;transform-origin:0 4.00px;transform:scale(1.0000,1.0400);">ENTRE DIFERENTES NIVELES Y ÓRDENES DE GOBIERNO</div>
<div class="t" style="top:974.75px;font-size:12.50px;left:568.85px;transform-origin:0 4.00px;transform:scale(1.0000,1.0400);">$0.00</div>
<div class="t" style="top:974.75px;font-size:12.50px;left:744.55px;transform-origin:0 4.00px;transform:scale(1.0000,1.0400);">$0.00</div>
<div class="t" style="top:974.75px;font-size:12.50px;left:903.75px;transform-origin:0 4.00px;transform:scale(1.0000,1.0400);">$0.00</div>
<div class="t" style="top:974.75px;font-size:12.50px;left:1060.85px;transform-origin:0 4.00px;transform:scale(1.0000,1.0400);">$0.00</div>
<div class="t" style="top:974.75px;font-size:12.50px;left:1198.65px;transform-origin:0 4.00px;transform:scale(1.0000,1.0400);">$0.00</div>
<div class="t" style="top:974.75px;font-size:12.50px;left:1327.85px;transform-origin:0 4.00px;transform:scale(1.0000,1.0400);">$0.00</div>
</div>
<div class="row">
<div class="t" style="top:1011.75px;font-size:12.45px;left:29.90px;transform-origin:0 4.00px;transform:scale(1.0000,1.0400);">SANEAMIENTO DEL SISTEMA FINANCIERO</div>
<div class="t" style="top:1011.75px;font-size:12.50px;left:568.85px;transform-origin:0 4.00px;transform:scale(1.0000,1.0400);">$0.00</div>
<div class="t" style="top:1011.75px;font-size:12.50px;left:744.55px;transform-origin:0 4.00px;transform:scale(1.0000,1.0400);">$0.00</div>
<div class="t" style="top:1011.75px;font-size:12.50px;left:903.75px;transform-origin:0 4.00px;transform:scale(1.0000,1.0400);">$0.00</div>
<div class="t" style="top:1011.75px;font-size:12.50px;left:1060.85px;transform-origin:0 4.00px;transform:scale(1.0000,1.0400);">$0.00</div>
<div class="t" style="top:1011.75px;font-size:12.50px;left:1198.65px;transform-origin:0 4.00px;transform:scale(1.0000,1.0400);">$0.00</div>
<div class="t" style="top:1011.75px;font-size:12.50px;left:1327.85px;transform-origin:0 4.00px;transform:scale(1.0000,1.0400);">$0.00</div>
</div>
</section>
</body>
</html>
